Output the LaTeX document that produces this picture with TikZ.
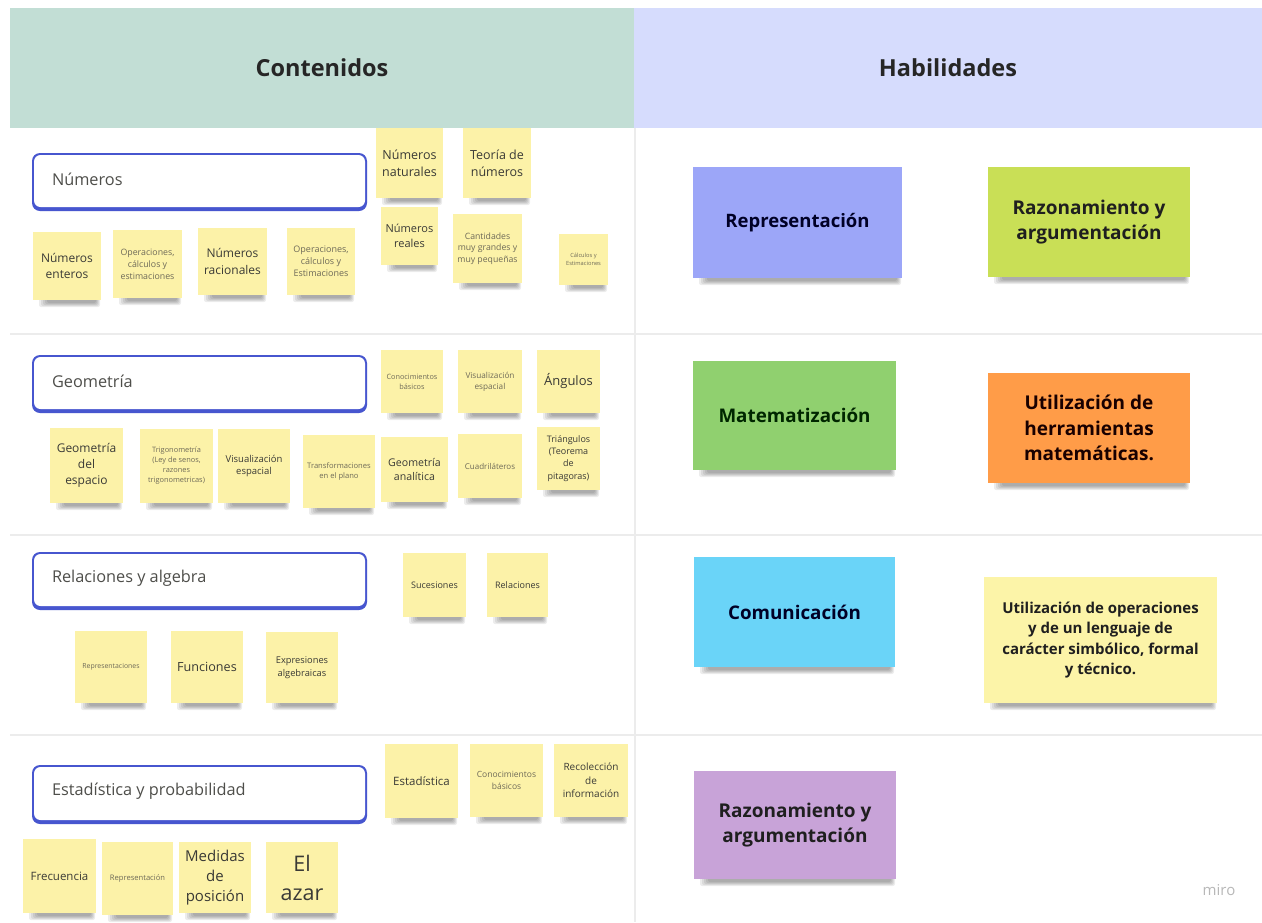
\documentclass[tikz,border=0pt]{standalone}
\usepackage{fontspec}
\setmainfont{Open Sans}

\definecolor{headgreen}{HTML}{C2DED5}
\definecolor{headblue}{HTML}{D6DCFD}
\definecolor{notey}{HTML}{FCF2A8}
\definecolor{notetext}{HTML}{3A3A36}
\definecolor{faintt}{HTML}{6E6A58}
\definecolor{topicblue}{HTML}{4756CF}
\definecolor{sepline}{HTML}{ECECEC}
\definecolor{cblue}{HTML}{9CA6F8}
\definecolor{clime}{HTML}{C9DF56}
\definecolor{cgreen}{HTML}{90D06F}
\definecolor{corange}{HTML}{FF9C48}
\definecolor{ccyan}{HTML}{6AD4F8}
\definecolor{cyellow}{HTML}{FCF4A8}
\definecolor{cpurple}{HTML}{C8A3D8}

% font size with proportional leading
\newcommand\fsz[1]{\fontsize{#1}{\the\dimexpr #1pt*27/20\relax}\selectfont}

\tikzset{
  note/.style={fill=notey, inner sep=0pt, align=center, text=notetext},
  faint/.style={text=faintt},
  skill/.style={execute at begin node=\bfseries},
  topicframe/.style={fill=topicblue, rounded corners=8pt, inner sep=0pt},
  topiclabel/.style={anchor=west, font=\fsz{16.3}, text=notetext!90, inner sep=0pt},
  header/.style={inner sep=0pt, font=\bfseries\fsz{23.5}, text=black!85},
  sep/.style={draw=sepline, line width=1.2pt},
}

% sticky note: [style] name, x1, y1, x2, y2, font size, text
\newcommand\stick[8][]{%
  \foreach \k in {0,...,4}
    \fill[black, opacity=0.075, rounded corners=2pt]
      ({#3+6+2*\k},{#6-3}) rectangle ({#5-1-\k},{#6+7-\k});
  \node[note, font=\fsz{#7}, #1,
        minimum width={(#5-#3)*1pt}, minimum height={(#6-#4)*1pt}]
        (#2) at ({(#3+#5)/2},{(#4+#6)/2}) {#8};
}

% topic box with a thicker lower border: name, y1, y2, text
\newcommand\topicbox[4]{%
  \node[topicframe, minimum width=335pt, minimum height={(#3-#2)*1pt}]
        (#1) at (199.5,{(#2+#3)/2}) {};
  \fill[white, rounded corners=6.5pt] (34,{#2+2}) rectangle (365,{#3-4});
  \node[topiclabel] (#1-label) at ([xshift=20pt,yshift=3pt]#1.west) {#4};
}

\begin{document}
\begin{tikzpicture}[x=1pt, y=-1pt]
\useasboundingbox[fill=white] (0,0) rectangle (1262,922);

% column headers
\node[header, fill=headgreen, minimum width=624pt, minimum height=120pt] (contenidos) at (322,68) {Contenidos};
\node[header, fill=headblue, minimum width=628pt, minimum height=120pt] (habilidades) at (948,68) {Habilidades};

% grid lines
\draw[sep] (10,334) -- (1262,334);
\draw[sep] (10,535) -- (1262,535);
\draw[sep] (10,735) -- (1262,735);
\draw[sep] (635,128) -- (635,922);

% ---- Números
\topicbox{numeros}{153}{211}{Números}
\stick{nat}{376}{128}{443}{198}{12.5}{Números\\naturales}
\stick{teo}{463}{128}{531}{198}{12.5}{Teoría de\\números}
\stick{rea}{381}{207}{438}{265}{11}{Números\\reales}
\stick[faint]{can}{453}{214}{522}{283}{8.7}{Cantidades\\muy grandes y\\muy pequeñas}
\stick[faint]{cal}{559}{234}{608}{285}{5.7}{Cálculos y\\Estimaciones}
\stick{ent}{33}{232}{101}{300}{12}{Números\\enteros}
\stick[faint]{ope}{113}{230}{182}{298}{8.8}{Operaciones,\\cálculos y\\estimaciones}
\stick{rac}{198}{228}{267}{295}{12}{Números\\racionales}
\stick[faint]{opeb}{287}{228}{355}{295}{9}{Operaciones,\\cálculos y\\Estimaciones}

% ---- Geometría
\topicbox{geometria}{355}{413}{Geometría}
\stick[faint]{con}{381}{350}{443}{413}{7.3}{Conocimientos\\básicos}
\stick[faint]{vis}{458}{350}{522}{413}{8.2}{Visualización\\espacial}
\stick{ang}{537}{350}{600}{413}{13}{Ángulos}
\stick{gesp}{50}{428}{123}{503}{12}{Geometría\\del\\espacio}
\stick[faint]{tri}{140}{429}{213}{503}{7.4}{Trigonometría\\(Ley de senos,\\razones\\trigonometricas)}
\stick{visb}{218}{429}{290}{503}{9.5}{Visualización\\espacial}
\stick[faint]{tra}{303}{435}{375}{508}{7.6}{Transformaciones\\en el plano}
\stick{gana}{381}{437}{448}{502}{10.6}{Geometría\\analítica}
\stick[faint]{cua}{458}{434}{522}{498}{8}{Cuadriláteros}
\stick{triang}{537}{427}{600}{490}{9}{Triángulos\\(Teorema\\de\\pitagoras)}

% ---- Relaciones y algebra
\topicbox{relaciones}{552}{610}{Relaciones y algebra}
\stick{suc}{403}{553}{466}{617}{9}{Sucesiones}
\stick{rel}{487}{553}{548}{617}{9}{Relaciones}
\stick[faint]{rep}{75}{631}{147}{703}{6.9}{Representaciones}
\stick{fun}{171}{631}{243}{703}{12.6}{Funciones}
\stick{exp}{266}{632}{338}{703}{9.3}{Expresiones\\algebraicas}

% ---- Estadística y probabilidad
\topicbox{estadistica}{765}{824}{Estadística y probabilidad}
\stick{est}{385}{744}{458}{818}{11.5}{Estadística}
\stick[faint]{conb}{470}{744}{543}{817}{8.5}{Conocimientos\\básicos}
\stick{rec}{554}{744}{628}{817}{10}{Recolección\\de\\información}
\stick{fre}{23}{839}{96}{913}{11.5}{Frecuencia}
\stick[faint]{repb}{102}{842}{173}{915}{7.6}{Representación}
\stick{med}{179}{842}{251}{913}{15}{Medidas\\de\\posición}
\stick{aza}{266}{842}{338}{913}{21.5}{El\\azar}

% ---- Habilidades
\stick[fill=cblue, text=black!85!blue, skill]{hrep}{693}{167}{902}{278}{18.5}{Representación}
\stick[fill=clime, text=black!88, skill]{hraz}{988}{167}{1190}{277}{19}{Razonamiento y\\argumentación}
\stick[fill=cgreen, text=black!85!green, skill]{hmat}{693}{361}{896}{470}{18.8}{Matematización}
\stick[fill=corange, text=black!90!red, skill]{hher}{988}{373}{1190}{483}{19}{Utilización de\\herramientas\\matemáticas.}
\stick[fill=ccyan, text=black!85!blue, skill]{hcom}{694}{557}{895}{667}{18.8}{Comunicación}
\stick[fill=cyellow, text=black!88, skill]{hope}{984}{577}{1217}{703}{15}{Utilización de operaciones\\y de un lenguaje de\\carácter simbólico, formal\\y técnico.}
\stick[fill=cpurple, text=black!88, skill]{hrazb}{694}{771}{896}{879}{19}{Razonamiento y\\argumentación}

% board watermark
\node[font=\fsz{15}, text=black!28, inner sep=0pt] (brand) at (1219,890) {miro};
\end{tikzpicture}
\end{document}
